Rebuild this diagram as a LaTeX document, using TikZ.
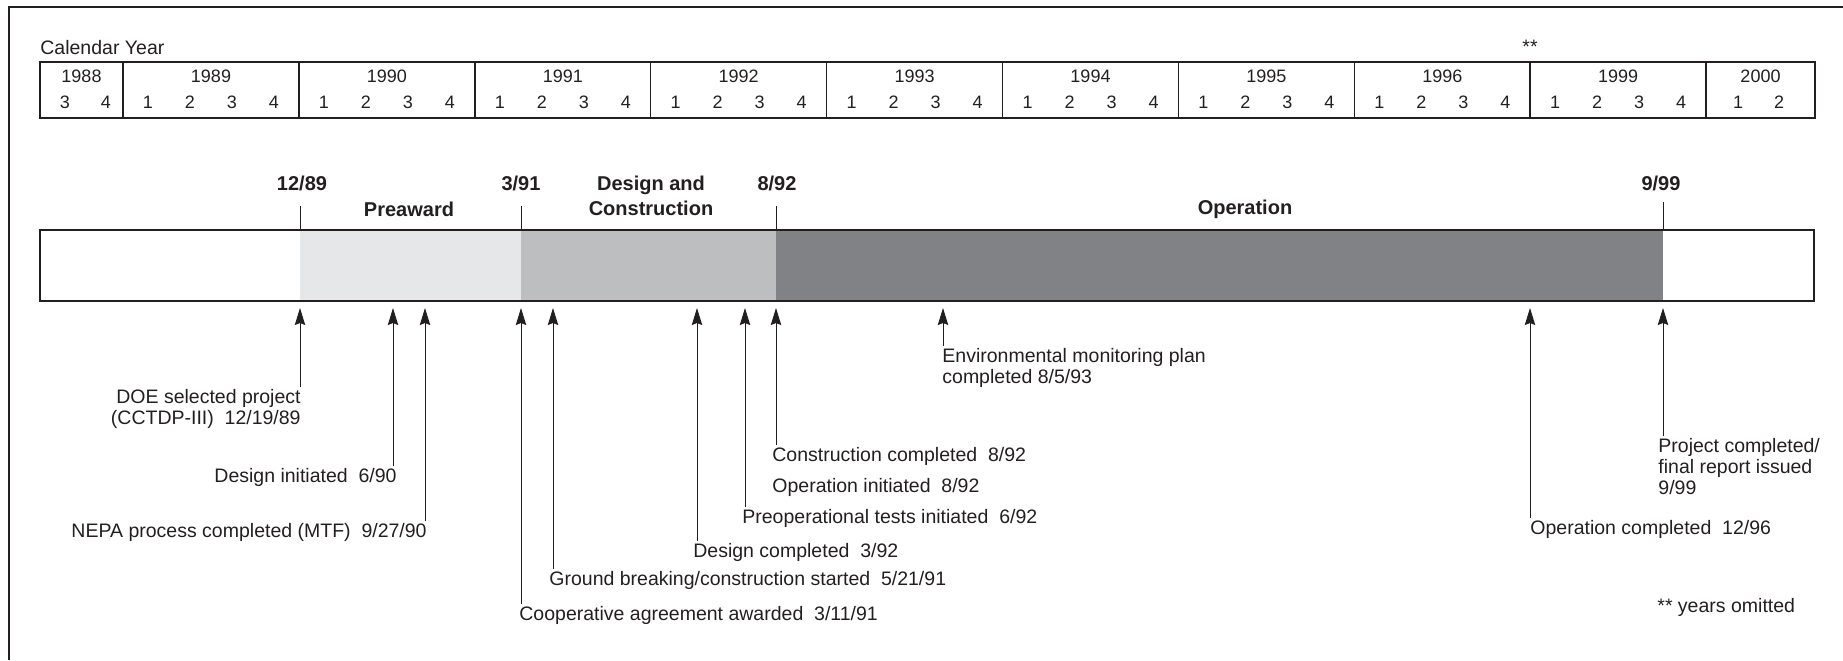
\documentclass[tikz,border=0pt]{standalone}
\usepackage{fontspec}
\setmainfont{Liberation Sans}
\usetikzlibrary{arrows.meta,calc}
\definecolor{ink}{HTML}{231F20}
\definecolor{prefill}{HTML}{E6E7E8}
\definecolor{dcfill}{HTML}{BCBEC0}
\definecolor{opfill}{HTML}{808285}
\begin{document}
\begin{tikzpicture}[x=0.5pt,y=-0.5pt,
  lbl/.style={font=\fontsize{9.75}{10.5}\selectfont, text=ink, inner sep=0pt},
  rlbl/.style={lbl, anchor=east, align=right},
  llbl/.style={lbl, anchor=west, align=left},
  phase/.style={font=\fontsize{10}{12.5}\bfseries\selectfont, text=ink, inner sep=0pt, align=center},
  conn/.style={draw=ink, line width=0.5pt, shorten <=1pt, -{Stealth[length=8.5pt,width=5.2pt,inset=1pt]}},
  tickline/.style={draw=ink, line width=0.5pt},
  yr/.style={font=\fontsize{9}{10}\selectfont, text=ink, inner sep=0pt},
  tbl/.style={draw=ink, line width=0.75pt},
]
\useasboundingbox (0,0) rectangle (1843,660);
% frame (top and left only)
\draw[ink, line width=1.3pt] (9,660) -- (9,7) -- (1843,7);

% calendar table
\node[lbl, anchor=west] (cal) at (40,48) {Calendar Year};
\node[lbl] (stars) at (1530,47) {**};
\draw[tbl] (40,62) rectangle (1815,118);
\node[yr] at (81.5,76) {1988};
\node[yr] at (65,102) {3};
\node[yr] at (106,102) {4};
\foreach \i/\yy in {0/1989,1/1990,2/1991,3/1992,4/1993,5/1994,6/1995,7/1996,8/1999}{
  \pgfmathsetmacro{\s}{123+175.9*\i}
  \draw[tbl] (\s,62) -- (\s,118);
  \node[yr] at (\s+88,76) {\yy};
  \foreach \q/\o in {1/25,2/67,3/109,4/151}
    \node[yr] at (\s+\o,102) {\q};
}
\draw[tbl] (1706,62) -- (1706,118);
\node[yr] at (1760.5,76) {2000};
\node[yr] at (1738,102) {1};
\node[yr] at (1779,102) {2};

% bar
\fill[prefill] (300,230) rectangle (521,301);
\fill[dcfill] (521,230) rectangle (776,301);
\fill[opfill] (776,230) rectangle (1663,301);
\draw[ink, line width=1pt] (40,230) rectangle (1814,301);

% milestone ticks and labels above bar
\coordinate (m1) at (300,230);
\coordinate (m2) at (521,230);
\coordinate (m3) at (776,230);
\coordinate (m4) at (1663,230);
\node[phase] (d1) at (302,183) {12/89};
\node[phase] (d2) at (521,183) {3/91};
\node[phase] (d3) at (777,183) {8/92};
\node[phase] (d4) at (1661,183) {9/99};
\draw[tickline] (m1) -- ++(0,-24);
\draw[tickline] (m2) -- ++(0,-24);
\draw[tickline] (m3) -- ++(0,-24);
\draw[tickline] (m4) -- ++(0,-28);
\node[phase] (p1) at (409,209) {Preaward};
\node[phase] (p2) at (651,196) {Design and\\Construction};
\node[phase] (p3) at (1245,209) {Operation};

% arrow tips
\coordinate (a1) at (300,308);
\coordinate (a2) at (393,308);
\coordinate (a3) at (425,308);
\coordinate (a4) at (521,308);
\coordinate (a5) at (553,308);
\coordinate (a6) at (697,308);
\coordinate (a7) at (745,308);
\coordinate (a8) at (776,308);
\coordinate (a10) at (943,308);
\coordinate (a11) at (1530,308);
\coordinate (a12) at (1663,308);

% event labels
\node[rlbl] (e1) at (301,409) {DOE selected project\\(CCTDP-III)\ \ 12/19/89};
\node[rlbl] (e2) at (397,477) {Design initiated\ \ 6/90};
\node[rlbl] (e3) at (427,532) {NEPA process completed (MTF)\ \ 9/27/90};
\node[llbl] (e4) at (519,615) {Cooperative agreement awarded\ \ 3/11/91};
\node[llbl] (e5) at (549,580) {Ground breaking/construction started\ \ 5/21/91};
\node[llbl] (e6) at (693,552) {Design completed\ \ 3/92};
\node[llbl] (e7) at (742,518) {Preoperational tests initiated\ \ 6/92};
\node[llbl] (e8) at (772,456) {Construction completed\ \ 8/92};
\node[llbl] (e9) at (772,487) {Operation initiated\ \ 8/92};
\node[llbl] (e10) at (942,368) {Environmental monitoring plan\\completed 8/5/93};
\node[llbl] (e11) at (1530,529) {Operation completed\ \ 12/96};
\node[llbl] (e12) at (1658,467) {Project completed/\\final report issued\\9/99};
\node[llbl] (note) at (1657,607) {** years omitted};

% connectors
\draw[conn] (e1.north -| a1) -- (a1);
\draw[conn] (e2.north -| a2) -- (a2);
\draw[conn] (e3.north -| a3) -- (a3);
\draw[conn] (e4.north -| a4) -- (a4);
\draw[conn] (e5.north -| a5) -- (a5);
\draw[conn] (e6.north -| a6) -- (a6);
\draw[conn] (e7.north -| a7) -- (a7);
\draw[conn] (e8.north -| a8) -- (a8);
\draw[conn] (e10.north -| a10) -- (a10);
\draw[conn] (e11.north -| a11) -- (a11);
\draw[conn] (e12.north -| a12) -- (a12);
\end{tikzpicture}
\end{document}
